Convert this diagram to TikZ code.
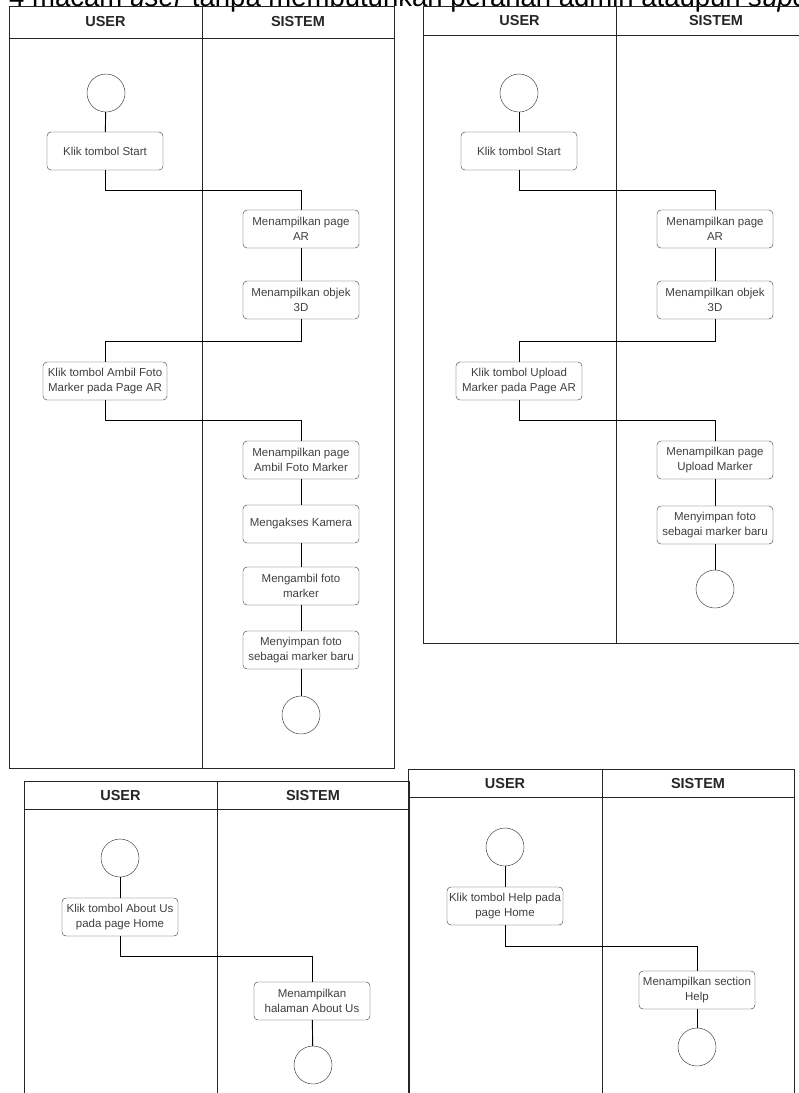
\documentclass[tikz,border=0pt]{standalone}
\usepackage{fontspec}
\setmainfont{Liberation Sans}
\begin{document}
\begin{tikzpicture}[x=1pt,y=-1pt,
  act/.style={draw=black!80, rounded corners=4pt, minimum width=116pt,
    minimum height=38pt, inner sep=1pt, align=center,
    font=\fontsize{11.5}{14.5}\selectfont, text=black!75},
  term/.style={draw=black!85, circle, minimum size=38pt, inner sep=0pt},
  flow/.style={draw=black, line width=0.9pt},
  lane/.style={draw=black!85, line width=1pt},
  hdr/.style={font=\bfseries\fontsize{14.5}{16}\selectfont, text=black!85}
]
\useasboundingbox (0,0) rectangle (799,1093);

% caption line running off the top edge
\begin{scope}
  \clip (0,0) rectangle (799,1093);
  \node[anchor=base west, inner sep=0pt, font=\fontsize{27.5}{29}\selectfont]
    (cap) at (9,6) {4 macam \textit{user} tanpa membutuhkan peranan admin ataupun \textit{super}};
\end{scope}

% ---------- swimlane 1: Ambil Foto Marker ----------
\draw[lane] (9,6) rectangle (394,768);
\draw[lane] (9,38) -- (394,38);
\draw[lane] (202,6) -- (202,768);
\node[hdr] (h1u) at (105.5,22) {USER};
\node[hdr] (h1s) at (298,22) {SISTEM};

\node[term] (s1) at (106,93) {};
\node[act] (a1) at (105,151) {Klik tombol Start};
\node[act] (a2) at (301,229) {Menampilkan page\\AR};
\node[act] (a3) at (301,300) {Menampilkan objek\\3D};
\node[act, minimum width=124pt] (a4) at (105,381) {Klik tombol Ambil Foto\\Marker pada Page AR};
\node[act] (a5) at (301,460) {Menampilkan page\\Ambil Foto Marker};
\node[act] (a6) at (301,524) {Mengakses Kamera};
\node[act] (a7) at (301,586) {Mengambil foto\\marker};
\node[act] (a8) at (301,650) {Menyimpan foto\\sebagai marker baru};
\node[term] (e1) at (301,715) {};

\draw[flow] (s1) -- (a1);
\draw[flow] (a1.south) -- ++(0,20) -| (a2.north);
\draw[flow] (a2) -- (a3);
\draw[flow] (a3.south) -- ++(0,22) -| (a4.north);
\draw[flow] (a4.south) -- ++(0,20) -| (a5.north);
\draw[flow] (a5) -- (a6);
\draw[flow] (a6) -- (a7);
\draw[flow] (a7) -- (a8);
\draw[flow] (a8) -- (e1);

% ---------- swimlane 2: Upload Marker ----------
\draw[lane] (830,6) -- (423,6) -- (423,643) -- (830,643);
\draw[lane] (423,35) -- (830,35);
\draw[lane] (616,6) -- (616,643);
\node[hdr] (h2u) at (519.5,20.5) {USER};
\node[hdr] (h2s) at (716,20.5) {SISTEM};

\node[term] (s2) at (519,93) {};
\node[act] (b1) at (519,151) {Klik tombol Start};
\node[act] (b2) at (715,229) {Menampilkan page\\AR};
\node[act] (b3) at (715,300) {Menampilkan objek\\3D};
\node[act, minimum width=126pt] (b4) at (519,381) {Klik tombol Upload\\Marker pada Page AR};
\node[act] (b5) at (715,460) {Menampilkan page\\Upload Marker};
\node[act] (b6) at (715,525) {Menyimpan foto\\sebagai marker baru};
\node[term] (e2) at (715,589) {};

\draw[flow] (s2) -- (b1);
\draw[flow] (b1.south) -- ++(0,20) -| (b2.north);
\draw[flow] (b2) -- (b3);
\draw[flow] (b3.south) -- ++(0,22) -| (b4.north);
\draw[flow] (b4.south) -- ++(0,20) -| (b5.north);
\draw[flow] (b5) -- (b6);
\draw[flow] (b6) -- (e2);

% ---------- swimlane 3: About Us ----------
\draw[lane] (24,1100) -- (24,781) -- (409,781) -- (409,1100);
\draw[lane] (24,809) -- (409,809);
\draw[lane] (217,781) -- (217,1100);
\node[hdr] (h3u) at (120.5,795) {USER};
\node[hdr] (h3s) at (313,795) {SISTEM};

\node[term] (s3) at (120,858) {};
\node[act] (c1) at (120,917) {Klik tombol About Us\\pada page Home};
\node[act] (c2) at (312,1001) {Menampilkan\\halaman About Us};
\node[term] (e3) at (313,1065) {};

\draw[flow] (s3) -- (c1);
\draw[flow] (c1.south) -- ++(0,20) -| (c2.north);
\draw[flow] (c2) -- (e3);

% ---------- swimlane 4: Help ----------
\draw[lane] (408,1100) -- (408,769) -- (794,769) -- (794,1100);
\draw[lane] (408,797) -- (794,797);
\draw[lane] (602,769) -- (602,1100);
\node[hdr] (h4u) at (505,783) {USER};
\node[hdr] (h4s) at (698,783) {SISTEM};

\node[term] (s4) at (505,847) {};
\node[act] (d1) at (505,906) {Klik tombol Help pada\\page Home};
\node[act] (d2) at (697,990) {Menampilkan section\\Help};
\node[term] (e4) at (697,1047) {};

\draw[flow] (s4) -- (d1);
\draw[flow] (d1.south) -- ++(0,21) -| (d2.north);
\draw[flow] (d2) -- (e4);
\end{tikzpicture}
\end{document}
